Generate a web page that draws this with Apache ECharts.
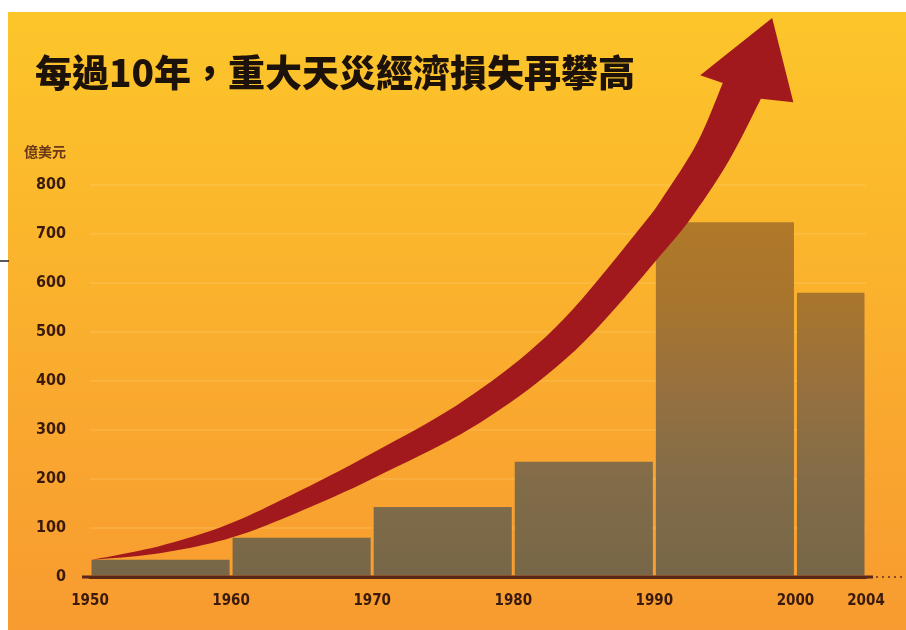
<!DOCTYPE html>
<html>
<head>
<meta charset="utf-8">
<script src="https://cdn.jsdelivr.net/npm/echarts@6/dist/echarts.min.js"></script>
<style>
  html, body { margin: 0; padding: 0; background: #ffffff; }
  #chart { width: 906px; height: 630px; }
</style>
</head>
<body>
<div id="chart"></div>
<script>
// x axis slots in 5-year steps; the last slot closes the 2000 period at 2004
const xCategories = ['1950', '1955', '1960', '1965', '1970', '1975', '1980', '1985', '1990', '1995', '2000', '2004'];
const tickLabels = ['1950', '1960', '1970', '1980', '1990', '2000', '2004'];

// Economic losses from major natural catastrophes per period (億美元)
const periodStart = ['1950', '1960', '1970', '1980', '1990', '2000'];
const periodEnd   = ['1960', '1970', '1980', '1990', '2000', '2004'];
const losses      = [35, 80, 143, 235, 724, 580];

const yMin = 0, yMax = 800, yStep = 100;

// Trend arrow outline in axis units: [slot index, 億美元]
const arrowLower = [[0.03, 35], [1.01, 49], [2.02, 81], [3.03, 137], [4.08, 206], [5.54, 316],
                    [6.88, 463], [8.15, 667], [8.60, 749], [9.07, 853], [9.51, 976]];
const arrowUpper = [[0.03, 35], [0.98, 63], [1.95, 107], [2.92, 172], [3.94, 248], [5.32, 362],
                    [6.59, 508], [7.78, 709], [8.19, 790], [8.62, 890], [8.97, 1008]];
const arrowHead  = [[9.97, 969], [9.67, 1141], [8.65, 1024]]; // right barb, tip, left barb

const barRows = periodStart.map((s, i) => [xCategories.indexOf(s), xCategories.indexOf(periodEnd[i]), losses[i]]);

// Catmull-Rom densification so the arrow edges read as smooth curves
function smoothPath(pts, steps) {
  const out = [];
  for (let i = 0; i < pts.length - 1; i++) {
    const p0 = pts[i - 1] || pts[i], p1 = pts[i], p2 = pts[i + 1], p3 = pts[i + 2] || pts[i + 1];
    for (let k = 0; k < steps; k++) {
      const t = k / steps, t2 = t * t, t3 = t2 * t;
      out.push([0, 1].map(d => 0.5 * ((2 * p1[d]) + (-p0[d] + p2[d]) * t +
        (2 * p0[d] - 5 * p1[d] + 4 * p2[d] - p3[d]) * t2 +
        (-p0[d] + 3 * p1[d] - 3 * p2[d] + p3[d]) * t3)));
    }
  }
  out.push(pts[pts.length - 1]);
  return out;
}

const labelFont = "'DejaVu Sans Condensed', 'Liberation Sans Narrow', 'DejaVu Sans', sans-serif";
const inkBrown = '#3a1a0c';

const chart = echarts.init(document.getElementById('chart'), null, { renderer: 'canvas' });

chart.setOption({
  backgroundColor: '#ffffff',
  animation: false,
  title: {
    text: '每過10年，重大天災經濟損失再攀高',
    left: 30,
    top: 49,
    textStyle: {
      fontFamily: "'Noto Sans CJK TC', 'Noto Sans CJK SC', sans-serif",
      fontWeight: 900,
      fontSize: 37,
      color: '#1c120a'
    }
  },
  graphic: [
    {
      type: 'rect', z: -100, silent: true,
      shape: { x: 8, y: 12, width: 898, height: 618 },
      style: {
        fill: new echarts.graphic.LinearGradient(0, 0, 0, 1, [
          { offset: 0, color: '#fcc62a' },
          { offset: 0.35, color: '#fbb62c' },
          { offset: 0.7, color: '#f9a62f' },
          { offset: 1, color: '#f89b30' }
        ])
      }
    },
    {
      type: 'line', z: -90, silent: true,
      shape: { x1: 0, y1: 261, x2: 9, y2: 261 },
      style: { stroke: '#222222', lineWidth: 1.5 }
    }
  ],
  grid: { left: 90, right: 40, top: 185, bottom: 53 },
  xAxis: {
    type: 'value',
    min: 0,
    max: xCategories.length - 1,
    interval: 1,
    axisLine: { show: true, lineStyle: { color: '#5a2616', width: 3 } },
    axisTick: { show: false },
    splitLine: { show: false },
    axisLabel: {
      formatter: v => (tickLabels.includes(xCategories[v]) ? xCategories[v] : ''),
      margin: 17,
      fontFamily: labelFont,
      fontWeight: 'bold',
      fontSize: 15,
      color: inkBrown
    }
  },
  yAxis: {
    type: 'value',
    min: yMin,
    max: yMax,
    interval: yStep,
    name: '億美元',
    nameLocation: 'end',
    nameGap: 26,
    nameTextStyle: {
      align: 'right',
      padding: [0, 24, 0, 0],
      fontFamily: "'Noto Sans CJK TC', sans-serif",
      fontWeight: 'bold',
      fontSize: 14,
      color: '#6a3818'
    },
    axisLine: { show: false },
    axisTick: { show: false },
    splitLine: { show: true, lineStyle: { color: 'rgba(255, 236, 170, 0.18)', width: 1.5 } },
    axisLabel: {
      margin: 24,
      fontFamily: labelFont,
      fontWeight: 'bold',
      fontSize: 16,
      color: inkBrown
    }
  },
  series: [
    {
      // one block per period, spanning its start and end slots
      type: 'custom',
      name: '經濟損失',
      clip: false,
      z: 3,
      encode: { x: [0, 1], y: 2 },
      data: barRows,
      renderItem: (params, api) => {
        const topLeft = api.coord([api.value(0), api.value(2)]);
        const bottomRight = api.coord([api.value(1), 0]);
        const yTop = api.coord([0, yMax])[1];
        const gap = 1.5;
        return {
          type: 'rect',
          shape: {
            x: topLeft[0] + gap,
            y: topLeft[1],
            width: bottomRight[0] - topLeft[0] - gap * 2,
            height: bottomRight[1] - topLeft[1] - 1.5
          },
          style: {
            fill: new echarts.graphic.LinearGradient(0, yTop, 0, bottomRight[1], [
              { offset: 0, color: '#b47a26' },
              { offset: 0.3, color: '#a8752e' },
              { offset: 0.55, color: '#947040' },
              { offset: 0.75, color: '#826c48' },
              { offset: 1, color: '#776748' }
            ], true)
          }
        };
      }
    },
    {
      // rising trend arrow plus the baseline's run-out past 2004
      type: 'custom',
      name: '趨勢',
      clip: false,
      z: 5,
      silent: true,
      data: [[0]],
      renderItem: (params, api) => {
        const toPx = p => api.coord(p);
        const lower = smoothPath(arrowLower.map(toPx), 10);
        const upper = smoothPath(arrowUpper.map(toPx), 10);
        const head = arrowHead.map(toPx);
        const outline = lower.concat(head, upper.slice().reverse());
        const base = api.coord([0, 0]);
        const end = api.coord([xCategories.length - 1, 0]);
        return {
          type: 'group',
          children: [
            {
              type: 'polygon',
              shape: { points: outline },
              style: { fill: '#a1191d' }
            },
            {
              type: 'line',
              shape: { x1: base[0] - 8, y1: base[1], x2: end[0] + 7, y2: end[1] },
              style: { stroke: '#5a2616', lineWidth: 3 }
            },
            {
              type: 'line',
              shape: { x1: end[0] + 10, y1: end[1], x2: 906, y2: end[1] },
              style: { stroke: '#8a4a2a', lineWidth: 2, lineDash: [2, 4] }
            }
          ]
        };
      }
    }
  ]
});
</script>
</body>
</html>
